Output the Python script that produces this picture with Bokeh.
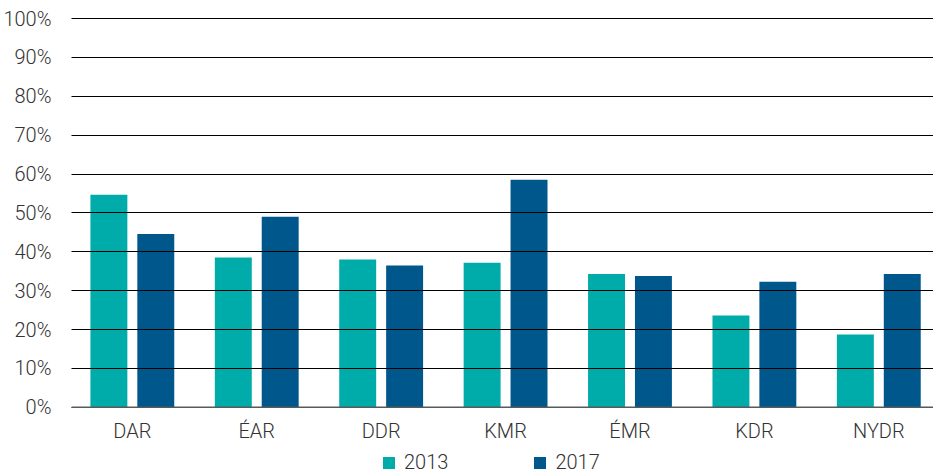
from bokeh.plotting import figure
from bokeh.models import Range1d, NumeralTickFormatter, FixedTicker, Legend, LegendItem, ColumnDataSource, Span
from bokeh.core.properties import value
from bokeh.embed import file_html
from bokeh.resources import INLINE

categories = ["DAR", "ÉAR", "DDR", "KMR", "ÉMR", "KDR", "NYDR"]
years = ["2013", "2017"]
values_2013 = [0.547, 0.385, 0.380, 0.372, 0.343, 0.236, 0.187]
values_2017 = [0.446, 0.490, 0.365, 0.585, 0.338, 0.323, 0.343]
y_ticks = [0.0, 0.1, 0.2, 0.3, 0.4, 0.5, 0.6, 0.7, 0.8, 0.9, 1.0]

colors = {"2013": "#00ACA9", "2017": "#00578C"}
FONT = "Roboto Light, Roboto"
TXT = "#333333"
FS = "20px"

W, H = 933, 474
LEFT, TOP = 69, 17
px_per_unit = 388.8
y_top = 1.0 + 1.0 / px_per_unit
y_bottom = y_top - (H - TOP) / px_per_unit
label_y = -23.5 / px_per_unit
group_px = 124.7
x_start = -0.489
x_end = x_start + (W - LEFT) / group_px

idx = list(range(len(categories)))
src = ColumnDataSource(dict(
    x=idx,
    x13=[i - 0.1885 for i in idx],
    x17=[i + 0.1885 for i in idx],
    v13=values_2013,
    v17=values_2017,
    cat=categories,
    ly=[label_y] * len(idx),
))

p = figure(width=W, height=H, output_backend="svg", toolbar_location=None,
           x_range=Range1d(x_start, x_end), y_range=Range1d(y_bottom, y_top),
           x_axis_location=None,
           min_border_left=LEFT, min_border_right=0, min_border_top=TOP, min_border_bottom=0)
p.outline_line_color = None
p.background_fill_color = "white"

r13 = p.vbar(x="x13", top="v13", bottom=0, width=0.297, source=src, color=colors["2013"], line_color=None)
r17 = p.vbar(x="x17", top="v17", bottom=0, width=0.297, source=src, color=colors["2017"], line_color=None)

# category labels
p.text(x="x", y="ly", text="cat", source=src, text_align="center", text_baseline="middle",
       text_font=value(FONT), text_font_size=FS, text_color=TXT)

# y axis
ya = p.yaxis[0]
ya.ticker = FixedTicker(ticks=y_ticks)
ya.formatter = NumeralTickFormatter(format="0%")
ya.axis_line_color = None
ya.major_tick_line_color = None
ya.minor_tick_line_color = None
ya.major_label_standoff = 14
ya.major_label_text_font = FONT
ya.major_label_text_font_size = FS
ya.major_label_text_color = TXT

p.xgrid.visible = False
p.ygrid.ticker = FixedTicker(ticks=y_ticks)
p.ygrid.grid_line_color = "#000000"
p.ygrid.grid_line_width = 1
p.ygrid.level = "overlay"

base = Span(location=0, dimension="width", line_color="#555a5a", line_width=1.5, level="overlay")
p.add_layout(base)

legend = Legend(items=[LegendItem(label=years[0], renderers=[r13]),
                       LegendItem(label=years[1], renderers=[r17])],
                location=(310, 0), orientation="horizontal",
                label_text_font=FONT, label_text_font_size=FS, label_text_color=TXT,
                glyph_width=15, glyph_height=15, label_standoff=8, spacing=84,
                padding=0, margin=0, border_line_color=None, background_fill_alpha=0)
p.add_layout(legend)

open("out.html", "w").write(file_html(p, INLINE))
